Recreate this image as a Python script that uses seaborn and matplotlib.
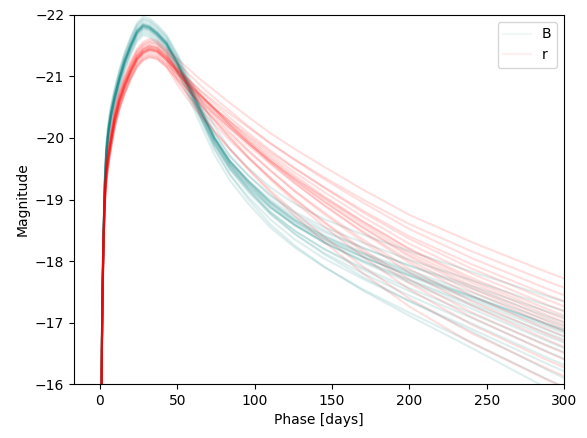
import matplotlib
matplotlib.use("Agg")
import matplotlib.pyplot as plt
from matplotlib.lines import Line2D
import seaborn as sns
import pandas as pd

phase = [1.05, 1.35, 1.8, 2.4, 3.2, 4.2, 5.5, 7.2, 9.5, 12.5, 16, 20, 24, 28, 32, 37, 43,
         50, 57, 65, 74, 84, 96, 110, 126, 145, 170, 200, 240, 290, 340]

B_curves = [
    [-15.95, -16.9, -17.8, -18.6, -19.4, -19.92, -20.25, -20.53, -20.8, -21.1, -21.39, -21.65, -21.87, -21.97, -21.94, -21.84, -21.68,
     -21.37, -21.02, -20.62, -20.19, -19.82, -19.51, -19.2, -18.93, -18.68, -18.43, -18.16, -17.83, -17.42, -17.03],
    [-15.84, -16.79, -17.69, -18.49, -19.29, -19.81, -20.14, -20.42, -20.69, -20.99, -21.28, -21.54, -21.76, -21.86, -21.83, -21.73, -21.57,
     -21.26, -20.91, -20.5, -20.07, -19.7, -19.39, -19.08, -18.8, -18.55, -18.3, -18.02, -17.69, -17.27, -16.87],
    [-15.77, -16.72, -17.62, -18.42, -19.22, -19.74, -20.07, -20.35, -20.62, -20.92, -21.21, -21.47, -21.69, -21.79, -21.76, -21.66, -21.5,
     -21.19, -20.84, -20.43, -20.0, -19.63, -19.31, -19.0, -18.72, -18.47, -18.21, -17.93, -17.6, -17.17, -16.76],
    [-15.9, -16.85, -17.75, -18.55, -19.35, -19.87, -20.2, -20.48, -20.75, -21.05, -21.34, -21.6, -21.82, -21.92, -21.89, -21.79, -21.63,
     -21.32, -20.96, -20.54, -20.09, -19.71, -19.39, -19.06, -18.77, -18.5, -18.22, -17.92, -17.56, -17.09, -16.64],
    [-15.8, -16.75, -17.65, -18.45, -19.25, -19.77, -20.1, -20.38, -20.65, -20.95, -21.24, -21.5, -21.72, -21.82, -21.79, -21.69, -21.53,
     -21.22, -20.86, -20.45, -20.0, -19.62, -19.3, -18.97, -18.68, -18.42, -18.14, -17.85, -17.49, -17.03, -16.59],
    [-15.68, -16.63, -17.53, -18.33, -19.13, -19.65, -19.98, -20.26, -20.53, -20.83, -21.12, -21.38, -21.6, -21.7, -21.67, -21.57, -21.41,
     -21.1, -20.75, -20.33, -19.89, -19.51, -19.19, -18.87, -18.59, -18.33, -18.06, -17.77, -17.42, -16.97, -16.54],
    [-15.82, -16.77, -17.67, -18.47, -19.27, -19.79, -20.12, -20.4, -20.67, -20.97, -21.26, -21.52, -21.74, -21.84, -21.81, -21.71, -21.55,
     -21.24, -20.88, -20.46, -20.01, -19.63, -19.3, -18.96, -18.67, -18.4, -18.12, -17.82, -17.44, -16.97, -16.52],
    [-15.78, -16.73, -17.63, -18.43, -19.23, -19.75, -20.08, -20.36, -20.63, -20.93, -21.22, -21.48, -21.7, -21.8, -21.77, -21.67, -21.51,
     -21.2, -20.84, -20.42, -19.97, -19.58, -19.25, -18.92, -18.63, -18.36, -18.07, -17.77, -17.4, -16.92, -16.46],
    [-15.83, -16.78, -17.68, -18.48, -19.28, -19.8, -20.13, -20.41, -20.68, -20.98, -21.27, -21.53, -21.75, -21.85, -21.82, -21.72, -21.56,
     -21.25, -20.89, -20.46, -20.0, -19.61, -19.28, -18.94, -18.64, -18.36, -18.07, -17.75, -17.37, -16.87, -16.4],
    [-15.76, -16.71, -17.61, -18.41, -19.21, -19.73, -20.06, -20.34, -20.61, -20.91, -21.2, -21.46, -21.68, -21.78, -21.75, -21.65, -21.49,
     -21.18, -20.82, -20.39, -19.93, -19.55, -19.21, -18.87, -18.58, -18.3, -18.01, -17.7, -17.31, -16.82, -16.35],
    [-15.8, -16.75, -17.65, -18.45, -19.25, -19.77, -20.1, -20.38, -20.65, -20.95, -21.24, -21.5, -21.72, -21.82, -21.79, -21.69, -21.53,
     -21.22, -20.85, -20.42, -19.96, -19.57, -19.23, -18.88, -18.58, -18.3, -18.0, -17.68, -17.28, -16.77, -16.28],
    [-15.87, -16.82, -17.72, -18.52, -19.32, -19.84, -20.17, -20.45, -20.72, -21.02, -21.31, -21.57, -21.79, -21.89, -21.86, -21.76, -21.6,
     -21.29, -20.92, -20.48, -20.01, -19.61, -19.26, -18.9, -18.59, -18.3, -17.98, -17.65, -17.23, -16.69, -16.17],
    [-15.74, -16.69, -17.59, -18.39, -19.19, -19.71, -20.04, -20.32, -20.59, -20.89, -21.18, -21.44, -21.66, -21.76, -21.73, -21.63, -21.47,
     -21.16, -20.79, -20.35, -19.89, -19.49, -19.14, -18.79, -18.49, -18.2, -17.89, -17.56, -17.15, -16.62, -16.12],
    [-15.81, -16.76, -17.66, -18.46, -19.26, -19.78, -20.11, -20.39, -20.66, -20.96, -21.25, -21.51, -21.73, -21.83, -21.8, -21.7, -21.54,
     -21.23, -20.85, -20.41, -19.93, -19.53, -19.17, -18.81, -18.49, -18.19, -17.86, -17.51, -17.08, -16.52, -15.98],
    [-15.79, -16.74, -17.64, -18.44, -19.24, -19.76, -20.09, -20.37, -20.64, -20.94, -21.23, -21.49, -21.71, -21.81, -21.78, -21.68, -21.52,
     -21.21, -20.83, -20.38, -19.9, -19.49, -19.12, -18.76, -18.44, -18.13, -17.8, -17.44, -16.99, -16.42, -15.87],
    [-15.71, -16.66, -17.56, -18.36, -19.16, -19.68, -20.01, -20.29, -20.56, -20.86, -21.15, -21.41, -21.63, -21.73, -21.7, -21.6, -21.44,
     -21.13, -20.75, -20.3, -19.82, -19.41, -19.04, -18.68, -18.35, -18.04, -17.71, -17.35, -16.9, -16.32, -15.76],
    [-15.92, -16.87, -17.77, -18.57, -19.37, -19.89, -20.22, -20.5, -20.77, -21.07, -21.36, -21.62, -21.84, -21.94, -21.91, -21.81, -21.65,
     -21.34, -20.95, -20.48, -19.98, -19.56, -19.17, -18.78, -18.44, -18.11, -17.74, -17.35, -16.86, -16.22, -15.61],
    [-15.65, -16.6, -17.5, -18.3, -19.1, -19.62, -19.95, -20.23, -20.5, -20.8, -21.09, -21.35, -21.57, -21.67, -21.64, -21.54, -21.38,
     -21.07, -20.68, -20.22, -19.73, -19.31, -18.93, -18.55, -18.22, -17.9, -17.54, -17.16, -16.68, -16.07, -15.48],
    [-15.8, -16.75, -17.65, -18.45, -19.25, -19.77, -20.1, -20.38, -20.65, -20.95, -21.24, -21.5, -21.72, -21.82, -21.79, -21.69, -21.53,
     -21.22, -20.82, -20.35, -19.83, -19.4, -19.0, -18.6, -18.25, -17.91, -17.52, -17.11, -16.59, -15.92, -15.27],
    [-15.82, -16.77, -17.67, -18.47, -19.27, -19.79, -20.12, -20.4, -20.67, -20.97, -21.26, -21.52, -21.74, -21.84, -21.81, -21.71, -21.55,
     -21.24, -20.88, -20.46, -20.0, -19.62, -19.29, -18.96, -18.66, -18.39, -18.11, -17.8, -17.43, -16.95, -16.49],
]

r_curves = [
    [-15.95, -16.87, -17.75, -18.53, -19.2, -19.58, -19.85, -20.12, -20.45, -20.75, -21.01, -21.25, -21.45, -21.56, -21.61, -21.58, -21.45,
     -21.29, -21.13, -20.95, -20.77, -20.57, -20.34, -20.08, -19.82, -19.53, -19.16, -18.75, -18.31, -17.81, -17.35],
    [-15.76, -16.68, -17.56, -18.34, -19.01, -19.39, -19.66, -19.93, -20.26, -20.56, -20.82, -21.06, -21.26, -21.37, -21.42, -21.39, -21.26,
     -21.1, -20.95, -20.77, -20.59, -20.39, -20.17, -19.91, -19.65, -19.36, -19.0, -18.6, -18.16, -17.66, -17.21],
    [-15.9, -16.82, -17.7, -18.48, -19.15, -19.53, -19.8, -20.07, -20.4, -20.7, -20.96, -21.2, -21.4, -21.51, -21.56, -21.53, -21.4,
     -21.22, -21.05, -20.85, -20.65, -20.44, -20.19, -19.92, -19.64, -19.33, -18.95, -18.52, -18.05, -17.54, -17.07],
    [-15.7, -16.62, -17.5, -18.28, -18.95, -19.33, -19.6, -19.87, -20.2, -20.5, -20.76, -21.0, -21.2, -21.31, -21.36, -21.33, -21.2,
     -21.03, -20.86, -20.68, -20.48, -20.27, -20.04, -19.77, -19.5, -19.2, -18.82, -18.4, -17.95, -17.44, -16.97],
    [-15.83, -16.75, -17.63, -18.41, -19.08, -19.46, -19.73, -20.0, -20.33, -20.63, -20.89, -21.13, -21.33, -21.44, -21.49, -21.46, -21.33,
     -21.14, -20.96, -20.76, -20.55, -20.33, -20.08, -19.8, -19.51, -19.19, -18.79, -18.36, -17.88, -17.36, -16.88],
    [-15.78, -16.7, -17.58, -18.36, -19.03, -19.41, -19.68, -19.95, -20.28, -20.58, -20.84, -21.08, -21.28, -21.39, -21.44, -21.41, -21.28,
     -21.08, -20.9, -20.7, -20.49, -20.27, -20.01, -19.73, -19.44, -19.12, -18.72, -18.28, -17.8, -17.28, -16.8],
    [-15.65, -16.57, -17.45, -18.23, -18.9, -19.28, -19.55, -19.82, -20.15, -20.45, -20.71, -20.95, -21.15, -21.26, -21.31, -21.28, -21.15,
     -20.96, -20.78, -20.58, -20.38, -20.16, -19.91, -19.63, -19.34, -19.03, -18.64, -18.2, -17.73, -17.21, -16.73],
    [-15.82, -16.74, -17.62, -18.4, -19.07, -19.45, -19.72, -19.99, -20.32, -20.62, -20.88, -21.12, -21.32, -21.43, -21.48, -21.45, -21.32,
     -21.11, -20.91, -20.7, -20.48, -20.25, -19.98, -19.69, -19.39, -19.05, -18.64, -18.19, -17.69, -17.16, -16.67],
    [-15.8, -16.72, -17.6, -18.38, -19.05, -19.43, -19.7, -19.97, -20.3, -20.6, -20.86, -21.1, -21.3, -21.41, -21.46, -21.43, -21.3,
     -21.09, -20.89, -20.67, -20.46, -20.22, -19.95, -19.66, -19.35, -19.01, -18.6, -18.14, -17.65, -17.11, -16.61],
    [-15.77, -16.69, -17.57, -18.35, -19.02, -19.4, -19.67, -19.94, -20.27, -20.57, -20.83, -21.07, -21.27, -21.38, -21.43, -21.4, -21.27,
     -21.05, -20.86, -20.64, -20.42, -20.18, -19.91, -19.62, -19.31, -18.97, -18.55, -18.1, -17.6, -17.06, -16.56],
    [-15.85, -16.77, -17.65, -18.43, -19.1, -19.48, -19.75, -20.02, -20.35, -20.65, -20.91, -21.15, -21.35, -21.46, -21.51, -21.48, -21.35,
     -21.12, -20.91, -20.69, -20.46, -20.21, -19.94, -19.63, -19.31, -18.96, -18.54, -18.07, -17.56, -17.01, -16.5],
    [-15.79, -16.71, -17.59, -18.37, -19.04, -19.42, -19.69, -19.96, -20.29, -20.59, -20.85, -21.09, -21.29, -21.4, -21.45, -21.42, -21.29,
     -21.06, -20.86, -20.63, -20.4, -20.16, -19.88, -19.58, -19.26, -18.91, -18.48, -18.01, -17.51, -16.96, -16.45],
    [-15.92, -16.84, -17.72, -18.5, -19.17, -19.55, -19.82, -20.09, -20.42, -20.72, -20.98, -21.22, -21.42, -21.53, -21.58, -21.55, -21.42,
     -21.17, -20.95, -20.71, -20.47, -20.21, -19.92, -19.6, -19.27, -18.9, -18.46, -17.97, -17.44, -16.88, -16.36],
    [-15.73, -16.65, -17.53, -18.31, -18.98, -19.36, -19.63, -19.9, -20.23, -20.53, -20.79, -21.03, -21.23, -21.34, -21.39, -21.36, -21.23,
     -20.99, -20.78, -20.54, -20.31, -20.06, -19.78, -19.47, -19.14, -18.79, -18.35, -17.87, -17.35, -16.8, -16.29],
    [-15.84, -16.76, -17.64, -18.42, -19.09, -19.47, -19.74, -20.01, -20.34, -20.64, -20.9, -21.14, -21.34, -21.45, -21.5, -21.47, -21.34,
     -21.08, -20.85, -20.61, -20.36, -20.1, -19.8, -19.48, -19.13, -18.76, -18.31, -17.81, -17.28, -16.71, -16.18],
    [-15.68, -16.6, -17.48, -18.26, -18.93, -19.31, -19.58, -19.85, -20.18, -20.48, -20.74, -20.98, -21.18, -21.29, -21.34, -21.31, -21.18,
     -20.93, -20.7, -20.46, -20.22, -19.96, -19.67, -19.35, -19.01, -18.64, -18.19, -17.7, -17.17, -16.61, -16.09],
    [-15.8, -16.72, -17.6, -18.38, -19.05, -19.43, -19.7, -19.97, -20.3, -20.6, -20.86, -21.1, -21.3, -21.41, -21.46, -21.43, -21.3,
     -21.03, -20.79, -20.53, -20.28, -20.0, -19.69, -19.36, -19.0, -18.62, -18.15, -17.64, -17.09, -16.51, -15.97],
    [-15.88, -16.8, -17.68, -18.46, -19.13, -19.51, -19.78, -20.05, -20.38, -20.68, -20.94, -21.18, -21.38, -21.49, -21.54, -21.51, -21.38,
     -21.08, -20.83, -20.56, -20.29, -20.01, -19.68, -19.33, -18.96, -18.56, -18.07, -17.54, -16.97, -16.38, -15.83],
    [-15.66, -16.58, -17.46, -18.24, -18.91, -19.29, -19.56, -19.83, -20.16, -20.46, -20.72, -20.96, -21.16, -21.27, -21.32, -21.29, -21.16,
     -20.87, -20.62, -20.36, -20.1, -19.82, -19.5, -19.15, -18.79, -18.39, -17.91, -17.39, -16.83, -16.24, -15.69],
    [-15.77, -16.69, -17.57, -18.35, -19.02, -19.4, -19.67, -19.94, -20.27, -20.57, -20.83, -21.07, -21.27, -21.38, -21.43, -21.4, -21.27,
     -20.95, -20.69, -20.4, -20.12, -19.82, -19.48, -19.12, -18.73, -18.31, -17.8, -17.26, -16.67, -16.06, -15.49],
]

bands = ["B", "r"]
colors = {"B": "teal", "r": "red"}
x_ticks = [0, 50, 100, 150, 200, 250, 300]
y_ticks = [-22, -21, -20, -19, -18, -17, -16]

rows = []
for band, curves in zip(bands, [B_curves, r_curves]):
    for k, mags in enumerate(curves):
        for p, m in zip(phase, mags):
            rows.append({"band": band, "curve": f"{band}{k}", "phase": p, "mag": m})
df = pd.DataFrame(rows)

fig = plt.figure(figsize=(5.87, 4.38), dpi=100)
ax = fig.add_axes([0.126, 0.123, 0.835, 0.843])

sns.lineplot(data=df, x="phase", y="mag", hue="band", units="curve",
             estimator=None, sort=False, palette=colors, hue_order=bands,
             alpha=0.13, linewidth=1.5, legend=False, ax=ax)

ax.set_xlim(-16.75, 300)
ax.set_ylim(-16, -22)
ax.set_xticks(x_ticks)
ax.set_yticks(y_ticks)
ax.set_xlabel("Phase [days]")
ax.set_ylabel("Magnitude")

handles = [Line2D([], [], color=colors[b], alpha=0.06, linewidth=1.5) for b in bands]
ax.legend(handles, bands, loc="upper right")

fig.savefig("out.png", dpi=100)
